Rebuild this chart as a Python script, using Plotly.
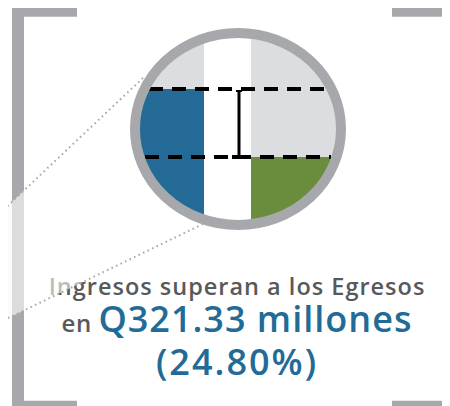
import numpy as np
import plotly.graph_objects as go

# ---------------- data ----------------
headline = "Ingresos superan a los Egresos"
connector = "en"
currency = "Q"
surplus_millions = [321.33]
surplus_pct = [24.80]
unit_label = "millones"
series_names = ["Ingresos", "Egresos"]
series_colors = ["#236a96", "#6a8d3d"]

# ---------------- style / geometry ----------------
W, H = 450, 406
PAGE_OFF = 8  # default body margin of the html page
GRAY = "#a7a8ab"
LIGHT = "#dcdde0"
TEXT_GRAY = "#58595b"
BLUE_TXT = "#236b97"
cx, cy = 238, 129
rx_in, ry_in = 100, 93


def ellipse_clip(x0, x1, y0, y1, n=360):
    t = np.linspace(0, 2 * np.pi, n, endpoint=False)
    pts = list(zip(cx + rx_in * np.cos(t), cy + ry_in * np.sin(t)))

    def clip(poly, inside, inter):
        out = []
        for i in range(len(poly)):
            cur, prev = poly[i], poly[i - 1]
            if inside(cur):
                if not inside(prev):
                    out.append(inter(prev, cur))
                out.append(cur)
            elif inside(prev):
                out.append(inter(prev, cur))
        return out

    def ix(v):
        return lambda p, q: (v, p[1] + (q[1] - p[1]) * (v - p[0]) / (q[0] - p[0]))

    def iy(v):
        return lambda p, q: (p[0] + (q[0] - p[0]) * (v - p[1]) / (q[1] - p[1]), v)

    pts = clip(pts, lambda p: p[0] >= x0, ix(x0))
    pts = clip(pts, lambda p: p[0] <= x1, ix(x1))
    pts = clip(pts, lambda p: p[1] >= y0, iy(y0))
    pts = clip(pts, lambda p: p[1] <= y1, iy(y1))
    return "M " + " L ".join(f"{x:.2f},{y:.2f}" for x, y in pts) + " Z"


shapes = []
# brackets
for (x0, x1, y0, y1) in [(12, 24, 8, 420), (12, 77, 8, 16.7), (12, 77, 400.7, 420),
                         (445, 470, 8, 420), (392, 470, 8, 16.7), (392, 470, 400.7, 420)]:
    shapes.append(dict(type="rect", x0=x0, x1=x1, y0=y0, y1=y1, fillcolor=GRAY,
                       line=dict(width=0), layer="below"))

# bars clipped to the lens
top_ing, top_egr = 89, 157
left_bar = (120, 204)
right_bar = (251, 360)
shapes.append(dict(type="path", path=ellipse_clip(left_bar[0], left_bar[1], 0, top_ing),
                   fillcolor=LIGHT, line=dict(width=0), layer="above"))
shapes.append(dict(type="path", path=ellipse_clip(left_bar[0], left_bar[1], top_ing, 300),
                   fillcolor=series_colors[0], line=dict(width=0), layer="above"))
shapes.append(dict(type="path", path=ellipse_clip(right_bar[0], right_bar[1], 0, top_egr),
                   fillcolor=LIGHT, line=dict(width=0), layer="above"))
shapes.append(dict(type="path", path=ellipse_clip(right_bar[0], right_bar[1], top_egr, 300),
                   fillcolor=series_colors[1], line=dict(width=0), layer="above"))

# dotted cone lines
shapes.append(dict(type="line", x0=143, y0=78, x1=0, y1=213,
                   line=dict(color=GRAY, width=2, dash="1.6px,3.4px"), layer="above"))
shapes.append(dict(type="line", x0=203, y0=224, x1=0, y1=322,
                   line=dict(color=GRAY, width=2, dash="1.6px,3.4px"), layer="above"))

# dashed level lines
shapes.append(dict(type="line", x0=149, x1=327, y0=top_ing, y1=top_ing,
                   line=dict(color="black", width=4, dash="14px,9px"), layer="above"))
shapes.append(dict(type="line", x0=145, x1=331, y0=top_egr, y1=top_egr,
                   line=dict(color="black", width=4, dash="14px,9px"), layer="above"))
# difference marker
shapes.append(dict(type="line", x0=239, x1=239, y0=top_ing + 1, y1=top_egr,
                   line=dict(color="black", width=3), layer="above"))
shapes.append(dict(type="line", x0=236, x1=242, y0=top_ing + 2, y1=top_ing + 2,
                   line=dict(color="black", width=2), layer="above"))
shapes.append(dict(type="line", x0=232, x1=246, y0=top_egr, y1=top_egr,
                   line=dict(color="black", width=4), layer="above"))

# lens ring
shapes.append(dict(type="circle", x0=cx - 103, x1=cx + 103, y0=cy - 96, y1=cy + 96,
                   line=dict(color=GRAY, width=10), fillcolor="rgba(0,0,0,0)", layer="above"))

fig = go.Figure()

font = "Open Sans"
fig.add_trace(go.Scatter(
    x=[237], y=[289], mode="text",
    text=[f"<span style='letter-spacing:1px'>{headline}</span>"],
    textfont=dict(family=font, size=23.5, color=TEXT_GRAY, weight=600),
    textposition="middle center", hoverinfo="skip"))
fig.add_trace(go.Scatter(
    x=[237], y=[326], mode="text",
    text=[f"<span style='letter-spacing:0.5px'>{connector} </span>"
          f"<span style='font-size:36px;color:{BLUE_TXT};letter-spacing:1px'>"
          f"{currency}{surplus_millions[0]:.2f} {unit_label}</span>"],
    textfont=dict(family=font, size=24, color=TEXT_GRAY, weight=600),
    textposition="middle center", hoverinfo="skip"))
fig.add_trace(go.Scatter(
    x=[237], y=[366], mode="text",
    text=[f"<span style='letter-spacing:2px'>({surplus_pct[0]:.2f}%)</span>"],
    textfont=dict(family=font, size=36, color=BLUE_TXT, weight=600),
    textposition="middle center", hoverinfo="skip"))

# faint gray left of bracket inside the cone
fig.add_trace(go.Scatter(
    x=[0, 12, 12, 0], y=[213, 201.7, 316.2, 322], fill="toself", mode="none",
    fillcolor="#f3f3f4", hoverinfo="skip"))
# translucent cone overlay
fig.add_trace(go.Scatter(
    x=[143, 0, 0, 203, 238], y=[78, 213, 322, 224, 128], fill="toself", mode="none",
    fillcolor="rgba(255,255,255,0.6)", hoverinfo="skip"))

fig.update_layout(
    width=W - PAGE_OFF, height=H - PAGE_OFF, margin=dict(l=0, r=0, t=0, b=0),
    paper_bgcolor="white", plot_bgcolor="white", showlegend=False,
    xaxis=dict(range=[PAGE_OFF, W], visible=False, fixedrange=True),
    yaxis=dict(range=[H, PAGE_OFF], visible=False, fixedrange=True),
    shapes=shapes,
)

fig.write_html("out.html")
